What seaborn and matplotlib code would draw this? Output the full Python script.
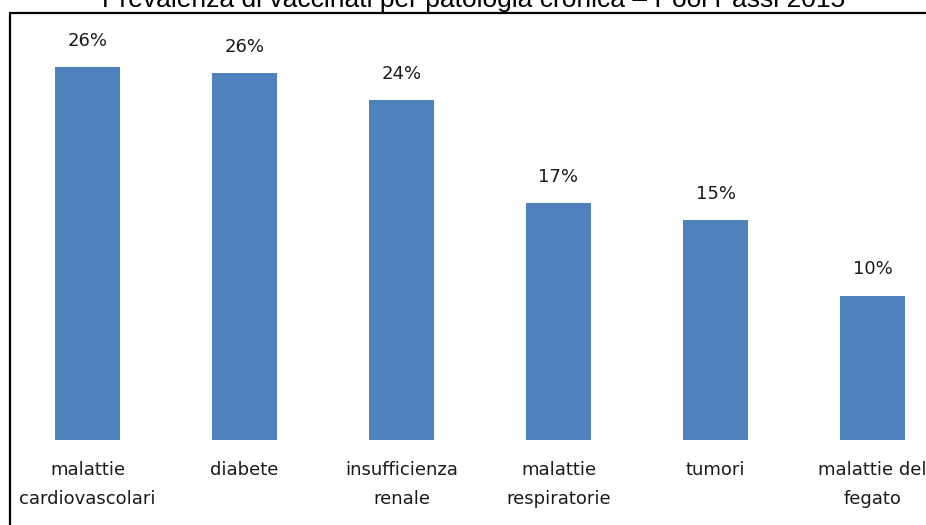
import matplotlib
matplotlib.use("Agg")
import matplotlib.pyplot as plt
import seaborn as sns
import pandas as pd
from matplotlib.lines import Line2D

categories = ["malattie\ncardiovascolari", "diabete", "insufficienza\nrenale",
              "malattie\nrespiratorie", "tumori", "malattie del\nfegato"]
values = [26.3, 25.9, 24.0, 16.7, 15.5, 10.2]
value_labels = ["26%", "26%", "24%", "17%", "15%", "10%"]
title = "Prevalenza di vaccinati per patologia cronica \u2013 Pool Passi 2015"

sns.set_theme(style="white")
plt.rcParams['font.family'] = ['DejaVu Sans']

W, H = 926, 525
fig = plt.figure(figsize=(W / 100, H / 100), dpi=100)

# axes: bar centers at 87.5 + 157*i px, baseline at y=440 px
ax_left = 9 / W
ax_width = 942 / W
ax_bottom = (H - 440) / H
ax_height = 425 / H
ax = fig.add_axes([ax_left, ax_bottom, ax_width, ax_height])

df = pd.DataFrame({"cat": categories, "val": values})
sns.barplot(data=df, x="cat", y="val", color="#4F81BD", saturation=1,
            width=0.41, linewidth=0, ax=ax)
ax.set_xlim(-0.5, 5.5)
ax.set_ylim(0, 30)
for s in ax.spines.values():
    s.set_visible(False)
ax.set_yticks([])
ax.set_xlabel("")
ax.set_ylabel("")
ax.tick_params(axis="x", length=0, pad=15)
ax.set_xticks(range(len(categories)))
ax.set_xticklabels(categories, fontsize=13, color="#1a1a1a", linespacing=1.8)

for i, (v, lab) in enumerate(zip(values, value_labels)):
    ax.annotate(lab, xy=(i, v), xytext=(0, 26), textcoords="offset pixels",
                ha="center", va="center", fontsize=13, color="#1a1a1a")

# frame (cut-off chart border)
fig.add_artist(Line2D([10 / W, 10 / W], [0, 1 - 12.5 / H], transform=fig.transFigure,
                      color="black", lw=1.6))
fig.add_artist(Line2D([10 / W, 1], [1 - 12.5 / H, 1 - 12.5 / H], transform=fig.transFigure,
                      color="black", lw=1.6))

fig.text(474 / W, 1 - 7 / H, title, ha="center", va="baseline",
         fontsize=19, family=["Liberation Sans"], color="black")

fig.savefig("out.png", dpi=100)
